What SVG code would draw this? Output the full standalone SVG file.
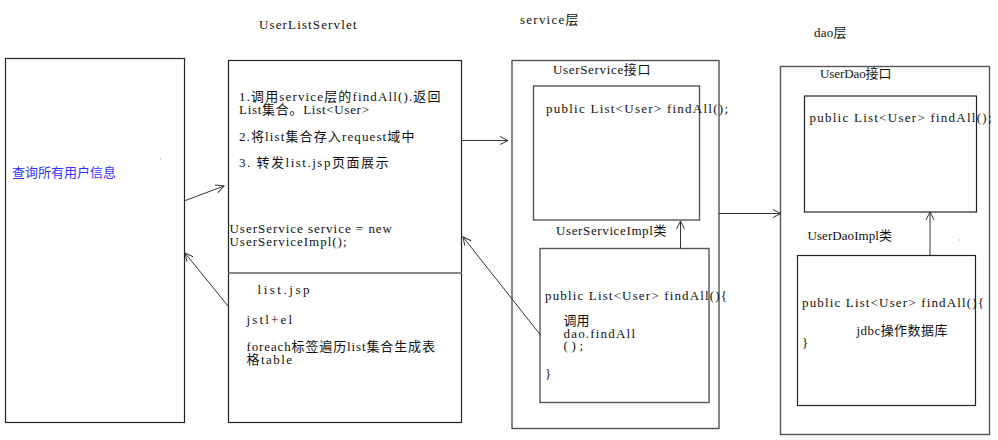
<svg xmlns="http://www.w3.org/2000/svg" width="998" height="440" viewBox="0 0 998 440">
<style>
text{font-family:"Liberation Serif","Noto Sans CJK SC",serif;font-size:13px;fill:#111}
.box{fill:none;stroke:#222;stroke-width:1.2}
.gbox{fill:none;stroke:#555;stroke-width:1.4}
.c{fill:none;stroke:#333;stroke-width:1}
.blue{fill:#3333ff}
</style>
<defs>
<marker id="ah" markerUnits="userSpaceOnUse" markerWidth="12" markerHeight="12" refX="8" refY="4" orient="auto" overflow="visible">
<path d="M0,0 L8,4 L0,8" fill="none" stroke="#333" stroke-width="1"/>
</marker>
</defs>
<rect width="998" height="440" fill="#fff"/>

<text x="259" y="29" textLength="97.5" lengthAdjust="spacing">UserListServlet</text>
<text x="520" y="24" textLength="58.5" lengthAdjust="spacing">service层</text>
<text x="814" y="37" textLength="32.5" lengthAdjust="spacing">dao层</text>

<g id="client">
<rect class="box" x="5.5" y="58.5" width="179" height="364"/>
<text class="blue" x="12" y="177" textLength="104" lengthAdjust="spacing">查询所有用户信息</text>
<rect x="160" y="158.5" width="1" height="1" fill="#999"/>
</g>

<g id="servlet">
<rect class="box" x="228.5" y="60.5" width="233" height="362"/>
<line x1="228.5" y1="273" x2="461.5" y2="273" stroke="#888" stroke-width="2"/>
<text x="239" y="101" textLength="201.5" lengthAdjust="spacing">1.调用service层的findAll().返回</text>
<text x="239" y="114" textLength="130" lengthAdjust="spacing">List集合。List&lt;User&gt;</text>
<text x="239" y="141" textLength="175.5" lengthAdjust="spacing">2.将list集合存入request域中</text>
<text x="239" y="167" textLength="149.5" lengthAdjust="spacing">3. 转发list.jsp页面展示</text>
<text x="229.5" y="233" textLength="162.5" lengthAdjust="spacing">UserService service = new</text>
<text x="229.5" y="246" textLength="117" lengthAdjust="spacing">UserServiceImpl();</text>
<text x="257.5" y="294" textLength="52" lengthAdjust="spacing">list.jsp</text>
<text x="246.5" y="324" textLength="45.5" lengthAdjust="spacing">jstl+el</text>
<text x="246.5" y="350.5" textLength="188.5" lengthAdjust="spacing">foreach标签遍历list集合生成表</text>
<text x="246.5" y="363.5" textLength="45.5" lengthAdjust="spacing">格table</text>
</g>

<g id="service-layer">
<rect class="gbox" x="512" y="60.5" width="207" height="368"/>
<text x="553" y="74" textLength="97.5" lengthAdjust="spacing">UserService接口</text>
</g>
<g id="userservice-interface">
<rect class="gbox" x="533.5" y="86" width="166" height="134"/>
<text x="546" y="113" textLength="182" lengthAdjust="spacing">public List&lt;User&gt; findAll();</text>
</g>
<g id="userservice-impl">
<text x="556" y="235" textLength="110.5" lengthAdjust="spacing">UserServiceImpl类</text>
<rect class="gbox" x="540" y="248.5" width="169" height="154"/>
<text x="545" y="300" textLength="182" lengthAdjust="spacing">public List&lt;User&gt; findAll(){</text>
<text x="563.5" y="325" textLength="26" lengthAdjust="spacing">调用</text>
<text x="563.5" y="337.5" textLength="71.5" lengthAdjust="spacing">dao.findAll</text>
<text x="563.5" y="350" textLength="19.5" lengthAdjust="spacing">();</text>
<text x="545" y="378">}</text>
</g>

<g id="dao-layer">
<rect class="gbox" x="780.5" y="66.5" width="209" height="368"/>
<text x="820" y="78" textLength="71.5" lengthAdjust="spacing">UserDao接口</text>
<rect x="959" y="239.5" width="1" height="1" fill="#999"/>
</g>
<g id="userdao-interface">
<rect class="box" x="804.5" y="96" width="172" height="116"/>
<text x="809.5" y="121.5" textLength="182" lengthAdjust="spacing">public List&lt;User&gt; findAll();</text>
</g>
<g id="userdao-impl">
<text x="807.5" y="240" textLength="84.5" lengthAdjust="spacing">UserDaoImpl类</text>
<rect class="box" x="797.5" y="255.5" width="178" height="150"/>
<text x="802" y="306.5" textLength="182" lengthAdjust="spacing">public List&lt;User&gt; findAll(){</text>
<text x="856.5" y="335" textLength="91" lengthAdjust="spacing">jdbc操作数据库</text>
<text x="802" y="346.5">}</text>
</g>

<g id="connectors">
<line class="c" x1="184" y1="201" x2="224" y2="186" marker-end="url(#ah)"/>
<line class="c" x1="228" y1="306" x2="185" y2="253" marker-end="url(#ah)"/>
<line class="c" x1="461.5" y1="140.5" x2="508" y2="140.5" marker-end="url(#ah)"/>
<line class="c" x1="540.5" y1="335" x2="463" y2="237" marker-end="url(#ah)"/>
<line class="c" x1="680.5" y1="248.5" x2="680.5" y2="221" marker-end="url(#ah)"/>
<line class="c" x1="719" y1="213.5" x2="781" y2="213.5" marker-end="url(#ah)"/>
<line class="c" x1="930" y1="255.5" x2="930" y2="212" marker-end="url(#ah)"/>
</g>
</svg>
